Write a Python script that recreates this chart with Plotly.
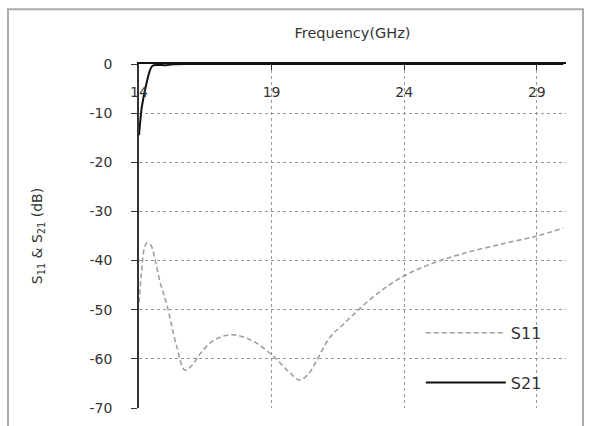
import plotly.graph_objects as go

# S11 (dB) vs frequency (GHz)
s11_freq = [14.0, 14.1, 14.2, 14.3, 14.45, 14.6, 14.8, 15.05, 15.4, 15.73, 16.0, 16.3, 16.8, 17.5, 18.3,
            19.05, 19.7, 20.05, 20.4, 20.7, 21.2, 21.7, 22.2, 23.06, 24.0, 25.05, 26.2, 27.7, 29.0, 30.0]
s11_db = [-48.5, -42.0, -37.5, -36.4, -36.9, -39.7, -44.5, -49.0, -57.0, -62.3, -61.3, -59.0, -56.3, -55.1, -56.4,
          -59.4, -62.9, -64.3, -63.0, -60.3, -55.6, -53.0, -50.4, -46.4, -43.1, -40.6, -38.6, -36.6, -35.0, -33.4]

# S21 (dB) vs frequency (GHz)
s21_freq = [14.0, 14.05, 14.1, 14.2, 14.3, 14.4, 14.5, 14.7, 15.0, 15.3, 16.0, 20.0, 25.0, 30.0]
s21_db = [-14.5, -11.5, -9.0, -6.0, -3.5, -1.5, -0.4, -0.2, -0.25, -0.05, 0.0, 0.0, 0.0, 0.0]

x_ticks = [14, 19, 24, 29]
y_ticks = [0, -10, -20, -30, -40, -50, -60, -70]

tick_font = dict(family="DejaVu Sans", size=14, color="#333333")
title_font = dict(family="DejaVu Sans", size=14.5, color="#333333")

fig = go.Figure()
fig.add_trace(go.Scatter(x=s11_freq, y=s11_db, mode="lines", name="S11",
                         line=dict(color="#a0a0a0", width=1.6, dash="5px,3px", shape="spline"),
                         legendgroup="a"))
fig.add_trace(go.Scatter(x=s21_freq, y=s21_db, mode="lines", name="S21",
                         line=dict(color="#111111", width=2, shape="spline"),
                         legendgroup="b"))
# carrier for the tick-label axis (invisible)
fig.add_trace(go.Scatter(x=s21_freq, y=s21_db, mode="lines", xaxis="x2", showlegend=False,
                         hoverinfo="skip", line=dict(width=0), opacity=0))

fig.update_layout(
    width=594, height=426,
    margin=dict(l=139, r=28, t=64, b=10),
    paper_bgcolor="white", plot_bgcolor="white",
    font=tick_font,
    showlegend=True,
    legend=dict(x=0.66, y=0.268, xanchor="left", yanchor="top",
                bgcolor="rgba(0,0,0,0)", font=dict(family="DejaVu Sans", size=16, color="#333333"),
                tracegroupgap=26, itemwidth=80),
    xaxis=dict(
        range=[14, 30.1], side="top", tickvals=x_ticks, showticklabels=False,
        ticks="inside", ticklen=6, tickcolor="#333",
        showline=True, linecolor="#111111", linewidth=1.5,
        showgrid=True, gridcolor="#999999", griddash="dot", gridwidth=1,
        zeroline=False,
        title=dict(text="Frequency(GHz)", standoff=20, font=title_font),
    ),
    xaxis2=dict(
        matches="x", overlaying="x", anchor="free", position=0.948, side="bottom",
        tickvals=x_ticks, ticktext=[str(v) for v in x_ticks], ticks="",
        showline=False, showgrid=False, zeroline=False, tickfont=tick_font,
    ),
    yaxis=dict(
        range=[-70, 0], tickvals=y_ticks, ticktext=[str(v) for v in y_ticks],
        ticks="outside", ticklen=6, tickcolor="#333",
        ticklabelstandoff=16,
        showline=True, linecolor="#333333", linewidth=1.5,
        showgrid=True, gridcolor="#999999", griddash="dot", gridwidth=1,
        zeroline=False,
        title=dict(text="S<sub>11</sub> &amp; S<sub>21</sub> (dB)", standoff=44, font=tick_font),
    ),
    shapes=[dict(type="rect", xref="paper", yref="paper",
                 x0=-0.3068, x1=1.0398, y0=-0.12, y1=1.159,
                 line=dict(color="#aaaaaa", width=2), layer="below")],
)

fig.write_html("out.html")
